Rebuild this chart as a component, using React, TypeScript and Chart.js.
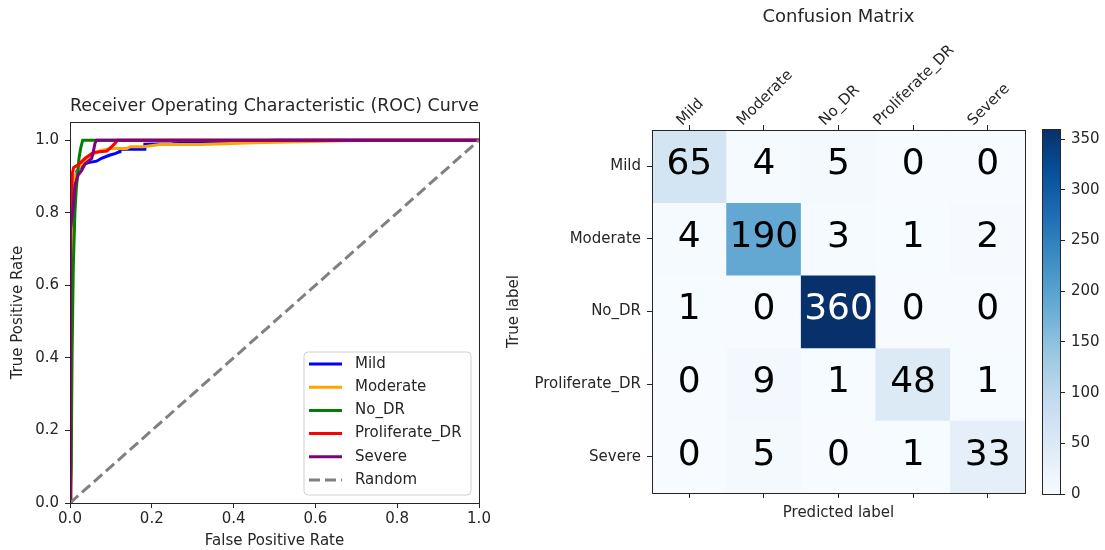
import React, { useEffect, useRef } from "react";
import { Chart, registerables } from "chart.js";

Chart.register(...registerables);

const FONT_FAMILY = "'DejaVu Sans', 'Liberation Sans', sans-serif";
const INK = "#262626";

// ---------- ROC curve data (false positive rate / true positive rate) ----------
const ROC_CLASSES = ["Mild", "Moderate", "No_DR", "Proliferate_DR", "Severe"];
const ROC_COLORS = ["#0000ff", "#ffa500", "#008000", "#ff0000", "#800080"];

const MILD_FPR = [0, 0.002, 0.005, 0.009, 0.016, 0.029, 0.045, 0.065, 0.077, 0.098, 0.11, 0.121, 0.122, 0.183, 0.183, 0.25, 0.5, 1];
const MILD_TPR = [0, 0.5, 0.8, 0.87, 0.913, 0.931, 0.938, 0.942, 0.95, 0.959, 0.963, 0.968, 0.975, 0.975, 0.989, 0.99, 1, 1];

const MODERATE_FPR = [0, 0.002, 0.006, 0.012, 0.025, 0.045, 0.073, 0.098, 0.139, 0.147, 0.18, 0.22, 0.318, 0.45, 0.62, 0.72, 1];
const MODERATE_TPR = [0, 0.55, 0.85, 0.9, 0.93, 0.954, 0.97, 0.977, 0.977, 0.982, 0.982, 0.988, 0.988, 0.993, 0.997, 1, 1];

const NO_DR_FPR = [0, 0.003, 0.005, 0.008, 0.012, 0.015, 0.018, 0.022, 0.026, 0.031, 1];
const NO_DR_TPR = [0, 0.1, 0.4, 0.65, 0.8, 0.86, 0.9, 0.95, 0.977, 1, 1];

const PROLIFERATE_DR_FPR = [0, 0.001, 0.002, 0.004, 0.006, 0.009, 0.02, 0.037, 0.057, 0.073, 0.09, 0.102, 0.11, 0.116, 1];
const PROLIFERATE_DR_TPR = [0, 0.5, 0.75, 0.86, 0.91, 0.925, 0.932, 0.95, 0.966, 0.968, 0.97, 0.982, 0.991, 1, 1];

const SEVERE_FPR = [0, 0, 0.0016, 0.0065, 0.0122, 0.02, 0.029, 0.037, 0.053, 0.057, 0.061, 0.065, 1];
const SEVERE_TPR = [0, 0.35, 0.75, 0.8, 0.876, 0.904, 0.917, 0.935, 0.95, 0.968, 0.991, 1, 1];

const RANDOM_FPR = [0, 1];
const RANDOM_TPR = [0, 1];

const ROC_X_TICKS = [0, 0.2, 0.4, 0.6, 0.8, 1.0];
const ROC_Y_TICKS = [0, 0.2, 0.4, 0.6, 0.8, 1.0];

// ---------- Confusion matrix data ----------
const TRUE_LABELS = ["Mild", "Moderate", "No_DR", "Proliferate_DR", "Severe"];
const PREDICTED_LABELS = ["Mild", "Moderate", "No_DR", "Proliferate_DR", "Severe"];
const ROW_MILD = [65, 4, 5, 0, 0];
const ROW_MODERATE = [4, 190, 3, 1, 2];
const ROW_NO_DR = [1, 0, 360, 0, 0];
const ROW_PROLIFERATE_DR = [0, 9, 1, 48, 1];
const ROW_SEVERE = [0, 5, 0, 1, 33];
const COLORBAR_TICKS = [0, 50, 100, 150, 200, 250, 300, 350];

// matplotlib "Blues" colormap anchor colours
const BLUES = ["#f7fbff", "#deebf7", "#c6dbef", "#9ecae1", "#6baed6", "#4292c6", "#2171b5", "#08519c", "#08306b"];

function hexToRgb(h: string) {
  const n = parseInt(h.slice(1), 16);
  return [(n >> 16) & 255, (n >> 8) & 255, n & 255];
}

function blues(t: number) {
  const c = Math.max(0, Math.min(1, t)) * (BLUES.length - 1);
  const i = Math.min(Math.floor(c), BLUES.length - 2);
  const f = c - i;
  const a = hexToRgb(BLUES[i]);
  const b = hexToRgb(BLUES[i + 1]);
  const m = a.map((v, k) => Math.round(v + (b[k] - v) * f));
  return `rgb(${m[0]},${m[1]},${m[2]})`;
}

const font = (size: number) => ({ family: FONT_FAMILY, size, weight: "normal" as const });

// Draws all four spines around the plotting area
const framePlugin = {
  id: "frame",
  afterDraw(chart: any) {
    const { ctx, chartArea: a } = chart;
    ctx.save();
    ctx.strokeStyle = INK;
    ctx.lineWidth = 1;
    ctx.strokeRect(Math.round(a.left) + 0.5, Math.round(a.top) + 0.5, Math.round(a.right - a.left), Math.round(a.bottom - a.top));
    ctx.restore();
  },
};

// Legend box in the lower-right corner of the ROC plot
const rocLegendPlugin = {
  id: "rocLegend",
  afterDraw(chart: any) {
    const { ctx, chartArea: a } = chart;
    const w = 167;
    const h = 143;
    const x = a.right - 8 - w;
    const y = a.bottom - 8 - h;
    ctx.save();
    ctx.beginPath();
    const r = 4;
    ctx.moveTo(x + r, y);
    ctx.arcTo(x + w, y, x + w, y + h, r);
    ctx.arcTo(x + w, y + h, x, y + h, r);
    ctx.arcTo(x, y + h, x, y, r);
    ctx.arcTo(x, y, x + w, y, r);
    ctx.closePath();
    ctx.fillStyle = "rgba(255,255,255,0.8)";
    ctx.fill();
    ctx.strokeStyle = "#d0d0d0";
    ctx.lineWidth = 1;
    ctx.stroke();
    chart.data.datasets.forEach((ds: any, i: number) => {
      const cy = y + 12 + i * 23.2;
      ctx.beginPath();
      ctx.strokeStyle = ds.borderColor;
      ctx.lineWidth = 3;
      ctx.setLineDash(ds.borderDash || []);
      ctx.moveTo(x + 5, cy);
      ctx.lineTo(x + 38, cy);
      ctx.stroke();
      ctx.setLineDash([]);
      ctx.fillStyle = INK;
      ctx.font = `15px ${FONT_FAMILY}`;
      ctx.textBaseline = "middle";
      ctx.textAlign = "left";
      ctx.fillText(ds.label, x + 51, cy);
    });
    ctx.restore();
  },
};

function RocChart() {
  const ref = useRef<HTMLCanvasElement>(null);
  useEffect(() => {
    const series = [
      { fpr: MILD_FPR, tpr: MILD_TPR },
      { fpr: MODERATE_FPR, tpr: MODERATE_TPR },
      { fpr: NO_DR_FPR, tpr: NO_DR_TPR },
      { fpr: PROLIFERATE_DR_FPR, tpr: PROLIFERATE_DR_TPR },
      { fpr: SEVERE_FPR, tpr: SEVERE_TPR },
    ];
    const datasets: any[] = series.map((s, i) => ({
      label: ROC_CLASSES[i],
      data: s.fpr.map((x, j) => ({ x, y: s.tpr[j] })),
      showLine: true,
      borderColor: ROC_COLORS[i],
      backgroundColor: ROC_COLORS[i],
      borderWidth: 3,
      pointRadius: 0,
      tension: 0,
      order: 10 - i,
    }));
    datasets.push({
      label: "Random",
      data: RANDOM_FPR.map((x, j) => ({ x, y: RANDOM_TPR[j] })),
      showLine: true,
      borderColor: "#808080",
      backgroundColor: "#808080",
      borderDash: [11, 5],
      borderWidth: 3,
      pointRadius: 0,
      order: 0,
    });
    const chart = new Chart(ref.current!, {
      type: "scatter",
      data: { datasets },
      options: {
        responsive: false,
        animation: false,
        devicePixelRatio: 1,
        events: [],
        layout: { padding: { left: 0, right: 21, top: 0, bottom: 0 } },
        plugins: {
          legend: { display: false },
          tooltip: { enabled: false },
          title: {
            display: true,
            text: "Receiver Operating Characteristic (ROC) Curve",
            fullSize: false,
            color: INK,
            font: font(18),
            padding: { top: 95.2, bottom: 5.2 },
          },
        },
        scales: {
          x: {
            type: "linear",
            min: 0,
            max: 1,
            afterBuildTicks: (s: any) => {
              s.ticks = ROC_X_TICKS.map((v) => ({ value: v }));
            },
            afterFit: (s: any) => {
              s.height = 47;
            },
            grid: { drawOnChartArea: false, drawTicks: true, tickLength: 5, color: INK },
            border: { display: false },
            ticks: { font: font(15), color: INK, padding: 2, maxRotation: 0, callback: (v: any) => Number(v).toFixed(1) },
            title: { display: true, text: "False Positive Rate", color: INK, font: font(15), padding: { top: 0, bottom: 0 } },
          },
          y: {
            type: "linear",
            min: 0,
            max: 1.05,
            afterBuildTicks: (s: any) => {
              s.ticks = ROC_Y_TICKS.map((v) => ({ value: v }));
            },
            afterFit: (s: any) => {
              s.width = 70;
            },
            grid: { drawOnChartArea: false, drawTicks: true, tickLength: 5, color: INK },
            border: { display: false },
            ticks: { font: font(15), color: INK, padding: 6, callback: (v: any) => Number(v).toFixed(1) },
            title: { display: true, text: "True Positive Rate", color: INK, font: font(15), padding: { top: 9, bottom: 0 } },
          },
        },
      } as any,
      plugins: [framePlugin, rocLegendPlugin],
    });
    return () => chart.destroy();
  }, []);
  return (
    <canvas
      ref={ref}
      width={500}
      height={550}
      style={{ position: "absolute", left: 0, top: 0, width: 500, height: 550 }}
    />
  );
}

function MatrixChart() {
  const ref = useRef<HTMLCanvasElement>(null);
  useEffect(() => {
    const rows = [ROW_MILD, ROW_MODERATE, ROW_NO_DR, ROW_PROLIFERATE_DR, ROW_SEVERE];
    const maxCount = Math.max(...rows.flat());

    // Counts written in the centre of each cell
    const cellTextPlugin = {
      id: "cellText",
      afterDatasetsDraw(chart: any) {
        const { ctx } = chart;
        ctx.save();
        ctx.font = `36px ${FONT_FAMILY}`;
        ctx.textAlign = "center";
        ctx.textBaseline = "alphabetic";
        rows.forEach((row, r) => {
          const meta = chart.getDatasetMeta(r);
          row.forEach((v, c) => {
            const el: any = meta.data[c];
            const cy = (el.y + el.base) / 2;
            ctx.fillStyle = v > maxCount * 0.6 ? "#ffffff" : "#000000";
            ctx.fillText(String(v), el.x, cy + 7.8);
          });
        });
        ctx.restore();
      },
    };

    // Column names above the matrix, rotated 45 degrees and centred on their ticks
    const topLabelsPlugin = {
      id: "topLabels",
      afterDraw(chart: any) {
        const { ctx, chartArea } = chart;
        const scale = chart.scales.x;
        ctx.save();
        ctx.font = `15px ${FONT_FAMILY}`;
        ctx.fillStyle = INK;
        ctx.textAlign = "center";
        ctx.textBaseline = "alphabetic";
        const bottom = chartArea.top - 4;
        PREDICTED_LABELS.forEach((label, i) => {
          const px = scale.getPixelForTick(i);
          const w = ctx.measureText(label).width;
          const half = ((w + 11) * Math.SQRT1_2) / 2;
          ctx.save();
          ctx.translate(px, bottom - half);
          ctx.rotate(-Math.PI / 4);
          ctx.fillText(label, 0, 5.5);
          ctx.restore();
        });
        ctx.restore();
      },
    };

    const tickGrid = { offset: false, drawOnChartArea: false, drawTicks: true, tickLength: 5, color: INK };

    const chart = new Chart(ref.current!, {
      type: "bar",
      data: {
        labels: PREDICTED_LABELS,
        datasets: rows.map((row, r) => ({
          label: TRUE_LABELS[r],
          data: row.map(() => [r - 0.5, r + 0.5]),
          backgroundColor: row.map((v) => blues(v / maxCount)),
          borderWidth: 0,
          barPercentage: 1,
          categoryPercentage: 1,
          grouped: false,
          xAxisID: "x",
          yAxisID: "y",
        })),
      },
      options: {
        responsive: false,
        animation: false,
        devicePixelRatio: 1,
        events: [],
        layout: { padding: { left: 0, right: 5, top: 0, bottom: 0 } },
        plugins: {
          legend: { display: false },
          tooltip: { enabled: false },
          title: {
            display: true,
            text: "Confusion Matrix",
            fullSize: false,
            color: INK,
            font: font(18),
            padding: { top: 6.2, bottom: 0 },
          },
        },
        scales: {
          x: {
            type: "category",
            position: "top",
            offset: true,
            grid: tickGrid,
            border: { display: false },
            ticks: { display: false },
            afterFit: (s: any) => {
              s.height = 102.2;
            },
          },
          x2: {
            type: "category",
            position: "bottom",
            offset: true,
            grid: tickGrid,
            border: { display: false },
            ticks: { display: false },
            afterFit: (s: any) => {
              s.height = 57;
            },
            title: { display: true, text: "Predicted label", color: INK, font: font(15), padding: { top: 0, bottom: 28 } },
          },
          y: {
            type: "linear",
            min: -0.5,
            max: 4.5,
            reverse: true,
            afterBuildTicks: (s: any) => {
              s.ticks = TRUE_LABELS.map((_, i) => ({ value: i }));
            },
            afterFit: (s: any) => {
              s.width = 152;
            },
            grid: { drawOnChartArea: false, drawTicks: true, tickLength: 5, color: INK },
            border: { display: false },
            ticks: { font: font(15), color: INK, padding: 6, callback: (_v: any, i: number) => TRUE_LABELS[i] },
            title: { display: true, text: "True label", color: INK, font: font(15), padding: { top: 5, bottom: 0 } },
          },
        },
      } as any,
      plugins: [cellTextPlugin, topLabelsPlugin, framePlugin],
    });
    return () => chart.destroy();
  }, []);
  return (
    <canvas
      ref={ref}
      width={530}
      height={550}
      style={{ position: "absolute", left: 500, top: 0, width: 530, height: 550 }}
    />
  );
}

function ColorbarChart() {
  const ref = useRef<HTMLCanvasElement>(null);
  useEffect(() => {
    const rows = [ROW_MILD, ROW_MODERATE, ROW_NO_DR, ROW_PROLIFERATE_DR, ROW_SEVERE];
    const maxCount = Math.max(...rows.flat());
    const chart = new Chart(ref.current!, {
      type: "bar",
      data: {
        labels: ["counts"],
        datasets: [
          {
            data: [[0, maxCount]],
            backgroundColor: (c: any) => {
              const area = c.chart.chartArea;
              if (!area) return BLUES[0];
              const g = c.chart.ctx.createLinearGradient(0, area.bottom, 0, area.top);
              for (let k = 0; k <= 32; k++) g.addColorStop(k / 32, blues(k / 32));
              return g;
            },
            borderWidth: 0,
            barPercentage: 1,
            categoryPercentage: 1,
          },
        ],
      },
      options: {
        responsive: false,
        animation: false,
        devicePixelRatio: 1,
        events: [],
        layout: { padding: { left: 12, right: 0, top: 129, bottom: 56 } },
        plugins: { legend: { display: false }, tooltip: { enabled: false } },
        scales: {
          x: { type: "category", display: false },
          y: {
            type: "linear",
            position: "right",
            min: 0,
            max: maxCount,
            afterBuildTicks: (s: any) => {
              s.ticks = COLORBAR_TICKS.map((v) => ({ value: v }));
            },
            afterFit: (s: any) => {
              s.width = 45;
            },
            grid: { drawOnChartArea: false, drawTicks: true, tickLength: 5, color: INK },
            border: { display: false },
            ticks: { font: font(15), color: INK, padding: 6 },
          },
        },
      } as any,
      plugins: [framePlugin],
    });
    return () => chart.destroy();
  }, []);
  return (
    <canvas
      ref={ref}
      width={75}
      height={550}
      style={{ position: "absolute", left: 1030, top: 0, width: 75, height: 550 }}
    />
  );
}

export default function App() {
  return (
    <div
      style={{
        position: "fixed",
        left: 0,
        top: 0,
        width: 1105,
        height: 550,
        background: "#ffffff",
        overflow: "hidden",
      }}
    >
      <RocChart />
      <MatrixChart />
      <ColorbarChart />
    </div>
  );
}
